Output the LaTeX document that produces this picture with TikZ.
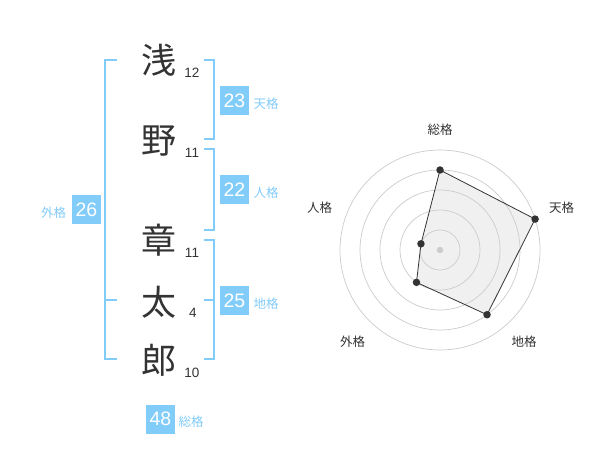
\documentclass[tikz,border=0pt]{standalone}
\usepackage{fontspec}
\usetikzlibrary{calc}
\setmainfont{Liberation Sans}
\newfontfamily\jp{Noto Sans CJK JP}
\definecolor{sky}{HTML}{82CCFA}
\definecolor{ink}{HTML}{333333}
\definecolor{ring}{HTML}{CCCCCC}
\definecolor{area}{HTML}{F0F0F0}
\tikzset{
  kanji/.style={inner sep=0pt, text=ink, font=\jp\fontsize{35}{35}\selectfont},
  strokes/.style={inner sep=0pt, text=ink, font=\fontsize{13.5}{14}\selectfont},
  bracket/.style={draw=sky, line width=2pt},
  valbox/.style={fill=sky, text=white, minimum size=29pt, inner sep=0pt, font=\fontsize{19.5}{19.5}\selectfont},
  grid label/.style={inner sep=0pt, text=sky, font=\jp\fontsize{12.5}{13}\selectfont},
  ringline/.style={draw=ring, line width=0.7pt},
  dot/.style={circle, fill=ink, inner sep=0pt, minimum size=7.5pt},
  axis label/.style={inner sep=0pt, text=ink, font=\jp\fontsize{12.5}{13}\selectfont},
}
\begin{document}
\begin{tikzpicture}[x=1pt,y=-1pt]
\useasboundingbox[fill=white] (0,0) rectangle (600,470);

% kanji
\node[kanji] (k1) at (159,60) {浅};
\node[kanji] (k2) at (159,141) {野};
\node[kanji] (k3) at (159,240) {章};
\node[kanji] (k4) at (159,302) {太};
\node[kanji] (k5) at (159,360) {郎};
\node[strokes] (n1) at (192,73) {12};
\node[strokes] (n2) at (192,153) {11};
\node[strokes] (n3) at (192,253) {11};
\node[strokes] (n4) at (193,313) {4};
\node[strokes] (n5) at (192,373) {10};

% brackets
\draw[bracket] (117,60) -- (105,60) -- (105,359) -- (117,359);
\draw[bracket] (105,300) -- (117,300);
\draw[bracket] (204,60) -- (214,60) -- (214,139) -- (204,139);
\draw[bracket] (204,149) -- (214,149) -- (214,230) -- (204,230);
\draw[bracket] (204,240) -- (214,240) -- (214,359) -- (204,359);
\draw[bracket] (204,300) -- (214,300);

% values
\node[valbox] (b23) at (234.5,100.5) {23};
\node[grid label] (l23) at (266,103.5) {天格};
\node[valbox] (b22) at (234.5,190) {22};
\node[grid label] (l22) at (266,193) {人格};
\node[valbox] (b25) at (234.5,300.5) {25};
\node[grid label] (l25) at (266,303.5) {地格};
\node[valbox] (b26) at (86.5,210) {26};
\node[grid label] (l26) at (53.5,213) {外格};
\node[valbox] (b48) at (160.5,419) {48};
\node[grid label] (l48) at (191,422) {総格};

% radar
\coordinate (c) at (440,250);
\coordinate (p1) at ($(c)+(-90:80)$);
\coordinate (p2) at ($(c)+(-18:100)$);
\coordinate (p3) at ($(c)+(54:80)$);
\coordinate (p4) at ($(c)+(126:40)$);
\coordinate (p5) at ($(c)+(198:20)$);
\fill[area] (p1) -- (p2) -- (p3) -- (p4) -- (p5) -- cycle;
\foreach \r in {20,40,60,80,100} \draw[ringline] (c) circle (\r);
\fill[ring] (c) circle (3.2);
\draw[ink, line width=0.8pt] (p1) -- (p2) -- (p3) -- (p4) -- (p5) -- cycle;
\foreach \i in {1,...,5} \node[dot] (d\i) at (p\i) {};
\node[axis label] (a1) at (440,130) {総格};
\node[axis label] (a2) at (561.5,208) {天格};
\node[axis label] (a3) at (524,341.5) {地格};
\node[axis label] (a4) at (352.5,341.5) {外格};
\node[axis label] (a5) at (319.5,208) {人格};
\end{tikzpicture}
\end{document}
